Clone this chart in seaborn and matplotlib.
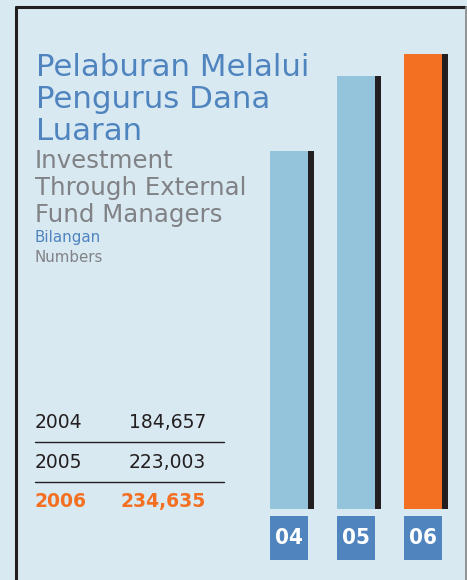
import matplotlib
matplotlib.use("Agg")
import matplotlib.pyplot as plt
import seaborn as sns
import numpy as np
import pandas as pd
from matplotlib.lines import Line2D
from matplotlib.patches import Rectangle

years = ["2004", "2005", "2006"]
labels = ["04", "05", "06"]
values = [184657, 223003, 234635]
value_text = ["184,657", "223,003", "234,635"]

BG = "#d9e9f2"
LIGHT = "#94c4db"
SHADOW = "#231f20"
ORANGE = "#f36f21"
BLUE = "#4f84bf"
GRAY = "#808285"

sns.set_theme(style="white")
plt.rcParams["font.family"] = ["DejaVu Sans"]

W, H = 467, 580
fig = plt.figure(figsize=(W / 100, H / 100), dpi=100, facecolor=BG)

def fx(px):
    return px / W

def fy(py):
    return 1 - py / H

# bar axes: x from 256 to 456 px, y from 40 to 509 px
ax = fig.add_axes([fx(256), fy(509), fx(456) - fx(256), (509 - 40) / H])
ax.set_facecolor("none")
ppu = 0.001940
ax.set_xlim(-0.5, 2.5)
ax.set_ylim(0, (509 - 40) / ppu)

df = pd.DataFrame({"year": labels, "value": values})
x = np.arange(len(values))
ax.bar(x + 0.045, values, width=0.66, color=SHADOW, linewidth=0, zorder=1)
sns.barplot(data=df, x="year", y="value", hue="year",
            palette=[LIGHT, LIGHT, ORANGE], width=0.57, ax=ax,
            legend=False, saturation=1, linewidth=0, zorder=2)
ax.set_xlim(-0.5, 2.5)
ax.set_xlabel("")
ax.set_ylabel("")
ax.set_xticks([])
ax.set_yticks([])
for s in ax.spines.values():
    s.set_visible(False)

# label boxes below bars
ybox_top = -7 / ppu
ybox_bot = -51 / ppu
for i, lab in enumerate(labels):
    ax.add_patch(Rectangle((i - 0.285, ybox_bot), 0.57, ybox_top - ybox_bot,
                           color=BLUE, linewidth=0, clip_on=False, zorder=3))
    ax.text(i, (ybox_top + ybox_bot) / 2 - 0.5 / ppu, lab, ha="center", va="center",
            color="white", fontsize=16, fontweight="bold", fontstretch="condensed",
            family=["DejaVu Sans Condensed", "DejaVu Sans"], clip_on=False, zorder=4)

# frame
fig.add_artist(Line2D([fx(16), fx(465)], [fy(7), fy(7)], color=SHADOW, lw=2.2))
fig.add_artist(Line2D([fx(16), fx(16)], [fy(7), fy(600)], color=SHADOW, lw=2.2))
fig.add_artist(Line2D([fx(465.5), fx(465.5)], [fy(7), fy(600)], color="#8c8c8c", lw=1.3))

# titles
title_lines = ["Pelaburan Melalui", "Pengurus Dana", "Luaran"]
for i, t in enumerate(title_lines):
    fig.text(fx(36), fy(76.5 + 31.7 * i), t, color=BLUE, fontsize=22.2,
             va="baseline", ha="left")
sub_lines = ["Investment", "Through External", "Fund Managers"]
for i, t in enumerate(sub_lines):
    fig.text(fx(35), fy(168 + 27 * i), t, color=GRAY, fontsize=17.6,
             va="baseline", ha="left")
fig.text(fx(35), fy(242), "Bilangan", color=BLUE, fontsize=10.8, va="baseline")
fig.text(fx(35), fy(262), "Numbers", color=GRAY, fontsize=10.8, va="baseline")

# table
base = [428, 468, 507]
for i in range(3):
    c = ORANGE if i == 2 else "#231f20"
    wgt = "bold" if i == 2 else "normal"
    fig.text(fx(35), fy(base[i]), years[i], color=c, fontsize=13.5,
             fontweight=wgt, va="baseline", ha="left")
    fig.text(fx(206), fy(base[i]), value_text[i], color=c, fontsize=13.5,
             fontweight=wgt, va="baseline", ha="right")
for yl in [442, 482]:
    fig.add_artist(Line2D([fx(35), fx(224)], [fy(yl), fy(yl)], color="#231f20", lw=1.0))

fig.savefig("out.png", dpi=100, facecolor=BG)
